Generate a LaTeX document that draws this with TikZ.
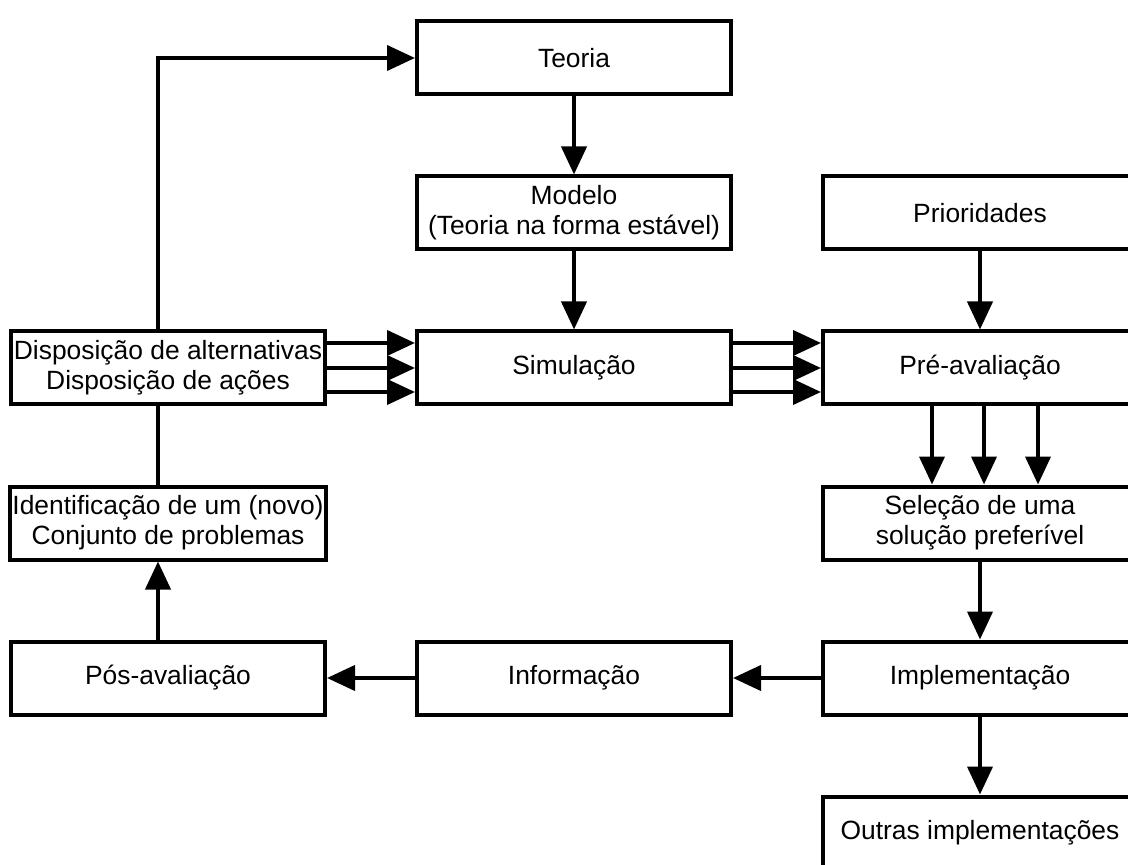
\documentclass[tikz,border=0pt]{standalone}
\usepackage{fontspec}
\setmainfont{Liberation Sans}
\usetikzlibrary{arrows.meta,positioning}

\begin{document}
\begin{tikzpicture}[
  x=0.5pt, y=-0.5pt,
  box/.style={draw, line width=2pt, minimum width=157pt, minimum height=36.5pt, align=center, inner sep=1pt, font=\fontsize{13.2}{15}\selectfont},
  arr/.style={line width=2pt, -{Triangle[length=14pt,width=12.5pt]}},
  node distance=39pt and 44pt
]
\clip (0,0) rectangle (1128,865);
\fill[white] (0,0) rectangle (1128,865);
\node[box] (sim) at (574,368) {Simulação};
\node[box, above=of sim] (mod) {Modelo\\(Teoria na forma estável)};
\node[box, above=of mod] (teo) {Teoria};
\node[box, left=of sim] (disp) {Disposição de alternativas\\Disposição de ações};
\node[box, right=of sim] (pre) {Pré-avaliação};
\node[box, above=of pre] (prio) {Prioridades};
\node[box, below=of pre] (sel) {Seleção de uma\\solução preferível};
\node[box, below=of sel] (impl) {Implementação};
\node[box, below=of impl] (out) {Outras implementações};
\node[box, left=of impl] (info) {Informação};
\node[box, left=of info] (pos) {Pós-avaliação};
\node[box, below=of disp] (ident) {Identificação de um (novo)\\Conjunto de problemas};
\draw[arr] ([xshift=-5pt]disp.north) |- (teo.west);
\draw[arr] (teo) -- (mod);
\draw[arr] (mod) -- (sim);
\foreach \dy in {12.5pt,0pt,-12pt} {
  \draw[arr] ([yshift=\dy]disp.east) -- ([yshift=\dy]sim.west);
  \draw[arr] ([yshift=\dy]sim.east) -- ([yshift=\dy]pre.west);
}
\draw[arr] (prio) -- (pre);
\foreach \dx in {-24pt,2pt,29pt}
  \draw[arr] ([xshift=\dx]pre.south) -- ([xshift=\dx]sel.north);
\draw[arr] (sel) -- (impl);
\draw[arr] (impl) -- (out);
\draw[arr] (impl) -- (info);
\draw[arr] (info) -- (pos);
\draw[arr] ([xshift=-5pt]pos.north) -- ([xshift=-5pt]ident.south);
\draw[line width=2pt] ([xshift=-5pt]ident.north) -- ([xshift=-5pt]disp.south);
\end{tikzpicture}
\end{document}
